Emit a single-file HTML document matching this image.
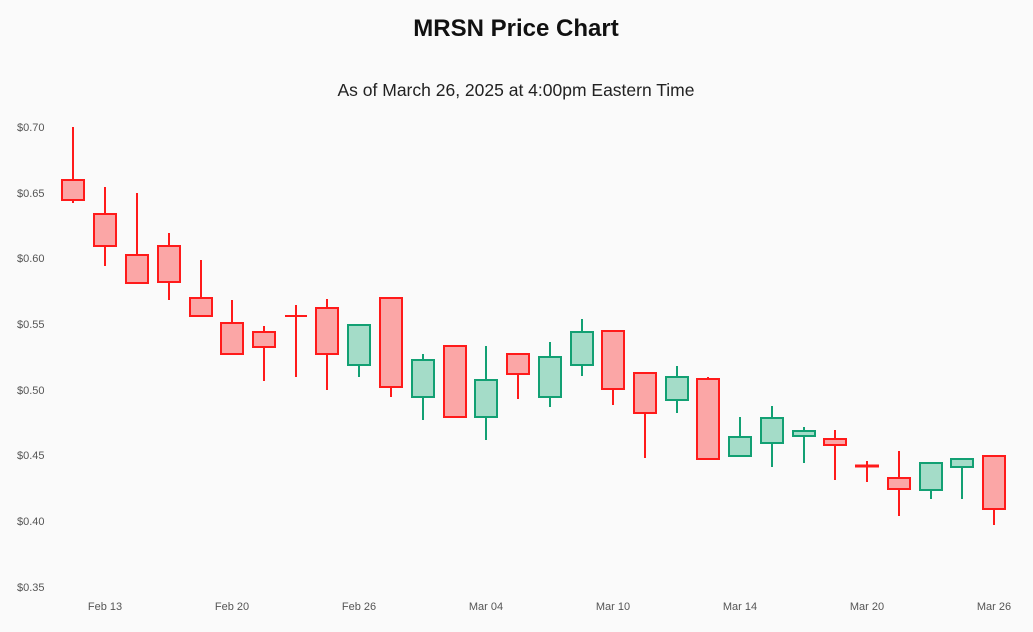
<!DOCTYPE html>
<html><head><meta charset="utf-8"><style>
html,body{margin:0;padding:0;background:#fafafa;}
svg{display:block;font-family:"Liberation Sans",sans-serif;}
</style></head><body>
<svg width="1033" height="632" viewBox="0 0 1033 632">
<rect width="1033" height="632" fill="#fafafa"/>
<text x="516" y="36" text-anchor="middle" font-size="24" font-weight="bold" fill="#111">MRSN Price Chart</text>
<text x="516" y="96" text-anchor="middle" font-size="17.5" fill="#222">As of March 26, 2025 at 4:00pm Eastern Time</text>
<g font-size="11" fill="#555">
<text x="17" y="131">$0.70</text>
<text x="17" y="197">$0.65</text>
<text x="17" y="262">$0.60</text>
<text x="17" y="328">$0.55</text>
<text x="17" y="394">$0.50</text>
<text x="17" y="459">$0.45</text>
<text x="17" y="525">$0.40</text>
<text x="17" y="591">$0.35</text>
</g>
<g font-size="11" fill="#555" text-anchor="middle">
<text x="105" y="610">Feb 13</text>
<text x="232" y="610">Feb 20</text>
<text x="359" y="610">Feb 26</text>
<text x="486" y="610">Mar 04</text>
<text x="613" y="610">Mar 10</text>
<text x="740" y="610">Mar 14</text>
<text x="867" y="610">Mar 20</text>
<text x="994" y="610">Mar 26</text>
</g>
<g stroke-width="2" stroke="#ff1a1a" fill="#fba6a6">
<line x1="73" x2="73" y1="127" y2="203"/><rect x="62" y="180" width="22" height="20"/>
<line x1="105" x2="105" y1="187" y2="266"/><rect x="94" y="214" width="22" height="32"/>
<line x1="137" x2="137" y1="193" y2="283"/><rect x="126" y="255" width="22" height="28"/>
<line x1="169" x2="169" y1="233" y2="300"/><rect x="158" y="246" width="22" height="36"/>
<line x1="201" x2="201" y1="260" y2="316"/><rect x="190" y="298" width="22" height="18"/>
<line x1="232" x2="232" y1="300" y2="354"/><rect x="221" y="323" width="22" height="31"/>
<line x1="264" x2="264" y1="326" y2="381"/><rect x="253" y="332" width="22" height="15"/>
<line x1="296" x2="296" y1="305" y2="377"/><line x1="285" x2="307" y1="316" y2="316"/>
<line x1="327" x2="327" y1="299" y2="390"/><rect x="316" y="308" width="22" height="46"/>
<line x1="391" x2="391" y1="298" y2="397"/><rect x="380" y="298" width="22" height="89"/>
<rect x="444" y="346" width="22" height="71"/>
<line x1="518" x2="518" y1="353" y2="399"/><rect x="507" y="354" width="22" height="20"/>
<line x1="613" x2="613" y1="331" y2="405"/><rect x="602" y="331" width="22" height="58"/>
<line x1="645" x2="645" y1="373" y2="458"/><rect x="634" y="373" width="22" height="40"/>
<line x1="708" x2="708" y1="377" y2="460"/><rect x="697" y="379" width="22" height="80"/>
<line x1="835" x2="835" y1="430" y2="480"/><rect x="824" y="439" width="22" height="6"/>
<line x1="867" x2="867" y1="461" y2="482"/><line x1="855" x2="879" y1="466" y2="466" stroke-width="3"/>
<line x1="899" x2="899" y1="451" y2="516"/><rect x="888" y="478" width="22" height="11"/>
<line x1="994" x2="994" y1="456" y2="525"/><rect x="983" y="456" width="22" height="53"/>
</g>
<g stroke-width="2" stroke="#12a073" fill="#a4dcc8">
<line x1="359" x2="359" y1="325" y2="377"/><rect x="348" y="325" width="22" height="40"/>
<line x1="423" x2="423" y1="354" y2="420"/><rect x="412" y="360" width="22" height="37"/>
<line x1="486" x2="486" y1="346" y2="440"/><rect x="475" y="380" width="22" height="37"/>
<line x1="550" x2="550" y1="342" y2="407"/><rect x="539" y="357" width="22" height="40"/>
<line x1="582" x2="582" y1="319" y2="376"/><rect x="571" y="332" width="22" height="33"/>
<line x1="677" x2="677" y1="366" y2="413"/><rect x="666" y="377" width="22" height="23"/>
<line x1="740" x2="740" y1="417" y2="456"/><rect x="729" y="437" width="22" height="19"/>
<line x1="772" x2="772" y1="406" y2="467"/><rect x="761" y="418" width="22" height="25"/>
<line x1="804" x2="804" y1="427" y2="463"/><rect x="793" y="431" width="22" height="5"/>
<line x1="931" x2="931" y1="463" y2="499"/><rect x="920" y="463" width="22" height="27"/>
<line x1="962" x2="962" y1="459" y2="499"/><rect x="951" y="459" width="22" height="8"/>
</g>
</svg>
</body></html>
